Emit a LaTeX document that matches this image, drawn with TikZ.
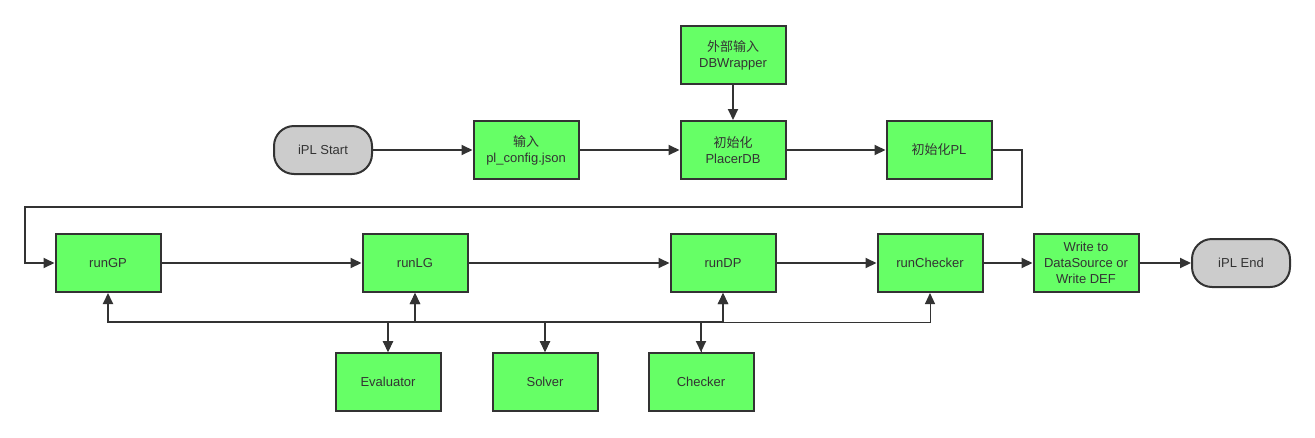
\documentclass[tikz,border=0pt]{standalone}
\usepackage{fontspec}
\setmainfont{Liberation Sans}
\newfontfamily\cjk{Noto Sans CJK SC}
\usetikzlibrary{arrows.meta}
\definecolor{boxgreen}{HTML}{66FF66}
\definecolor{boxgray}{HTML}{CCCCCC}
\definecolor{linegray}{HTML}{333333}
\tikzset{
stepbox/.style={
    draw=linegray, line width=2pt, fill=boxgreen,
    minimum width=105pt, minimum height=58pt, inner sep=2pt,
    align=center, text=linegray, font=\fontsize{13}{16}\selectfont
},
termbox/.style={stepbox, fill=boxgray, minimum width=98pt, minimum height=48pt, rounded corners=20pt},
flow/.style={draw=linegray, line width=2pt, -{Triangle[length=11pt,width=10pt]}},
bus/.style={flow, {Triangle[length=11pt,width=10pt]}-{Triangle[length=11pt,width=10pt]}},
}

\begin{document}
\begin{tikzpicture}[x=1pt,y=-1pt]
    \useasboundingbox (0,0) rectangle (1315,437);
    % first row
    \node[termbox] (start) at (323,150) {iPL Start};
    \node[stepbox] (input) at (526,150) {{\cjk 输入}\\pl\_config.json};
    \node[stepbox] (placerdb) at (733,150) {{\cjk 初始化}\\PlacerDB};
    \node[stepbox] (dbwrap) at (733,55) {{\cjk 外部输入}\\DBWrapper};
    \node[stepbox] (initpl) at (939,150) {{\cjk 初始化}PL};
    % second row
    \node[stepbox] (rungp) at (108,263) {runGP};
    \node[stepbox] (runlg) at (415,263) {runLG};
    \node[stepbox] (rundp) at (723,263) {runDP};
    \node[stepbox] (runchk) at (930,263) {runChecker};
    \node[stepbox] (write) at (1086,263) {Write to\\DataSource or\\Write DEF};
    \node[termbox] (end) at (1241,263) {iPL End};
    % tools
    \node[stepbox] (eval) at (388,382) {Evaluator};
    \node[stepbox] (solver) at (545,382) {Solver};
    \node[stepbox] (checker) at (701,382) {Checker};
    \coordinate (loopL) at (25,207);

    \draw[flow] (start) -- (input);
    \draw[flow] (input) -- (placerdb);
    \draw[flow] (dbwrap) -- (placerdb);
    \draw[flow] (placerdb) -- (initpl);
    \draw[flow] (initpl.east) -- ++(29,0) |- (loopL) |- (rungp.west);
    \draw[flow] (rungp) -- (runlg);
    \draw[flow] (runlg) -- (rundp);
    \draw[flow] (rundp) -- (runchk);
    \draw[flow] (runchk) -- (write);
    \draw[flow] (write) -- (end);
    \draw[bus] (rungp.south) -- ++(0,29) -| (eval.north);
    \draw[bus] (runlg.south) -- ++(0,29) -| (eval.north);
    \draw[bus] (runlg.south) -- ++(0,29) -| (solver.north);
    \draw[bus] (rundp.south) -- ++(0,29) -| (solver.north);
    \draw[bus] (rundp.south) -- ++(0,29) -| (checker.north);
    \draw[flow, line width=1pt] (checker.north) -- ++(0,-30) -| (runchk.south);
\end{tikzpicture}
\end{document}
